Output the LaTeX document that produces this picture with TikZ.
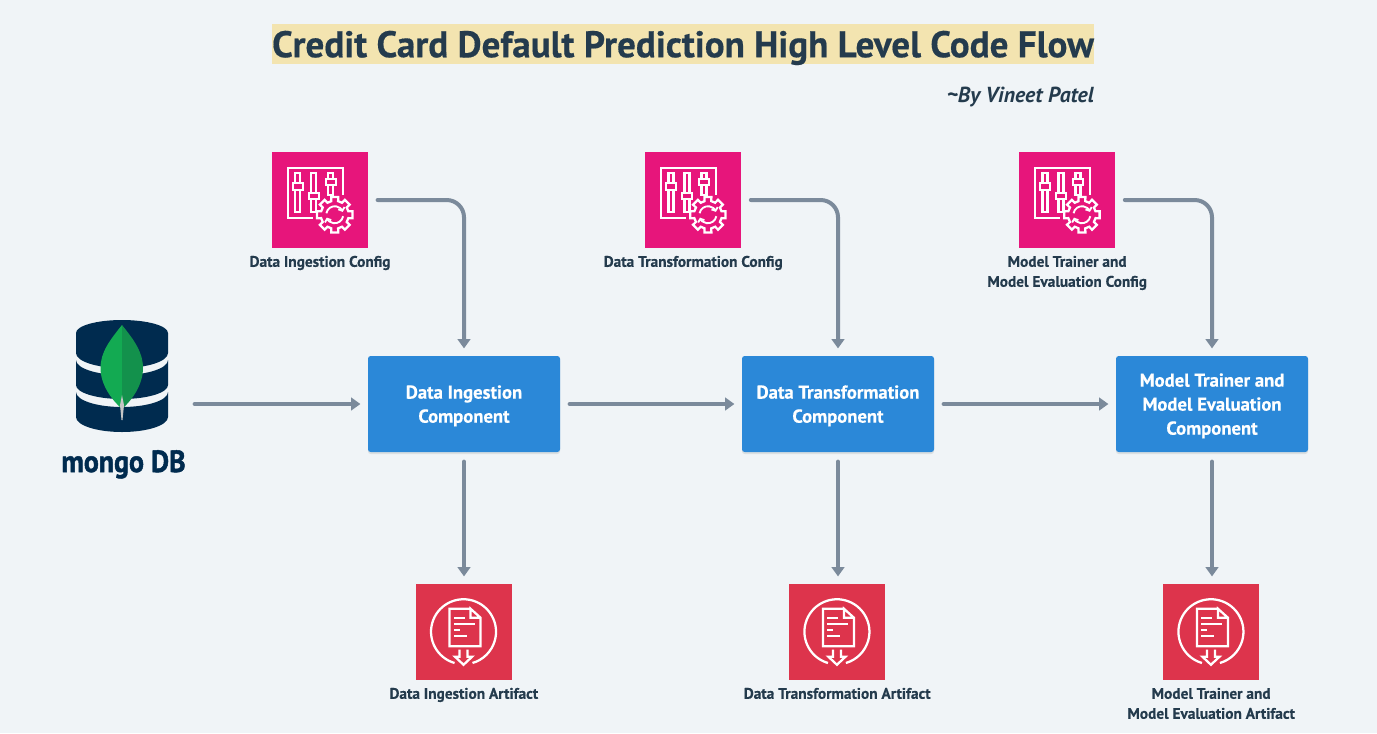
\documentclass[tikz,border=0pt]{standalone}
\usepackage{fontspec}
\setmainfont{PT Sans}[BoldFeatures={FakeBold=0.4}]
\newfontfamily\mongofont{PT Sans}[BoldFeatures={FakeBold=1.6}]
\usetikzlibrary{arrows.meta,positioning,shadows}
\definecolor{pagebg}{HTML}{F0F4F7}
\definecolor{titlebar}{HTML}{F3E4B0}
\definecolor{inkdark}{HTML}{243B4D}
\definecolor{flowgray}{HTML}{7B8A9B}
\definecolor{compblue}{HTML}{2B88D8}
\definecolor{cfgpink}{HTML}{E7157B}
\definecolor{artred}{HTML}{DD344C}
\definecolor{mongonavy}{HTML}{002B4F}
\definecolor{leafleft}{HTML}{13AA52}
\definecolor{leafright}{HTML}{13914C}
\tikzset{
  flow/.style={draw=flowgray,line width=3pt,line cap=round,rounded corners=13pt,
    shorten <=7pt,shorten >=5.5pt,-{Triangle[length=7pt,width=9.5pt]}},
  comp/.style={fill=compblue,text=white,rounded corners=2pt,minimum width=144pt,minimum height=72pt,
    inner sep=0pt,align=center,text depth=0pt,font=\bfseries\fontsize{14}{18}\selectfont,
    drop shadow={shadow xshift=0pt,shadow yshift=-1.5pt,opacity=.18}},
  cfgbox/.style={fill=cfgpink,minimum size=72pt,inner sep=0pt},
  artbox/.style={fill=artred,minimum size=72pt,inner sep=0pt},
  caption/.style={text=inkdark,inner sep=0pt,align=center,font=\bfseries\fontsize{11.5}{15}\selectfont},
  iconline/.style={draw=white,line width=1.7pt,line join=miter},
  configicon/.pic={
    \draw[iconline] (41,66) -- (16,66) -- (16,16) -- (71,16) -- (71,43);
    % sliders
    \draw[iconline] (23.5,21) rectangle (28.5,60);
    \draw[iconline,fill=cfgpink] (21,31) rectangle (31,38);
    \draw[iconline] (39.5,21) rectangle (44.5,60);
    \draw[iconline,fill=cfgpink] (37,41) rectangle (47,47);
    \draw[iconline] (56.5,21) rectangle (61.5,43);
    \draw[iconline,fill=cfgpink] (54,27) rectangle (64,33);
    % gear
    \begin{scope}[shift={(63,63)}]
      \draw[iconline,fill=cfgpink] (-11:18)
        \foreach \a in {0,45,...,315} {
          -- (\a-11:18) -- (\a+11:18) -- (\a+14:14) -- (\a+31:14) } -- cycle;
      \draw[draw=white,line width=1.4pt,-{Straight Barb[length=2pt,width=5pt]}]
        (190:8.5) arc[start angle=190,end angle=340,radius=8.5];
      \draw[draw=white,line width=1.4pt,-{Straight Barb[length=2pt,width=5pt]}]
        (10:8.5) arc[start angle=10,end angle=160,radius=8.5];
    \end{scope}
  },
  artifacticon/.pic={
    \draw[iconline] (48,48) +(106:32.5) arc[start angle=106,end angle=434,radius=32.5];
    \draw[iconline] (55,25) -- (34,25) -- (34,62.5) -- (65,62.5) -- (65,34) -- (55,25) -- (55,34) -- (65,34);
    \draw[iconline] (38.5,34.5) -- (49,34.5);
    \draw[iconline] (38.5,40.5) -- (59,40.5);
    \draw[iconline] (38.5,46.5) -- (44.5,46.5);
    \draw[iconline] (38.5,52.5) -- (51,52.5);
    \draw[iconline] (44,66) -- (44,73) -- (39.5,73) -- (48,81) -- (56.5,73) -- (52,73) -- (52,66);
  }
}
\begin{document}
\begin{tikzpicture}[x=0.75pt,y=-0.75pt]
\useasboundingbox (0,0) rectangle (1377,733);
\fill[pagebg] (0,0) rectangle (1377,733);

\node[fill=titlebar,text=inkdark,minimum width=616.5pt,minimum height=30pt,inner sep=0pt,text depth=0pt,
  font=\bfseries\fontsize{27.8}{30}\selectfont] (title) at (683,44) {Credit Card Default Prediction High Level Code Flow};
\node[text=inkdark,anchor=east,inner sep=0pt,font=\bfseries\itshape\fontsize{16.3}{18}\selectfont] (byline) at (1094,97) {\textasciitilde By Vineet Patel};

% source
\node[minimum width=92.25pt,minimum height=126pt,inner sep=0pt] (mongo) at (123.5,404) {};
\fill[mongonavy] (76,333) arc[start angle=180,end angle=360,x radius=46,y radius=13]
  -- (168,353) arc[start angle=0,end angle=180,x radius=46,y radius=15] -- cycle;
\fill[mongonavy] (76,360) arc[start angle=180,end angle=0,x radius=46,y radius=15]
  -- (168,385) arc[start angle=0,end angle=180,x radius=46,y radius=14] -- cycle;
\fill[mongonavy] (76,392) arc[start angle=180,end angle=0,x radius=46,y radius=15]
  -- (168,417) arc[start angle=0,end angle=180,x radius=46,y radius=15] -- cycle;
\fill[leafleft] (122,325) .. controls (110,340) and (100.5,352) .. (100.5,368) .. controls (100.5,385) and (112,400) .. (122,409) -- cycle;
\fill[leafright] (122,325) .. controls (134,340) and (143,352) .. (143,368) .. controls (143,385) and (132,400) .. (122,409) -- cycle;
\fill[gray!45] (120,405) -- (122,395) -- (124,405) -- (122.5,420) -- (121.5,420) -- cycle;
\node[text=mongonavy,inner sep=0pt,anchor=base,font=\mongofont\bfseries\fontsize{23}{26}\selectfont] (mongolabel) at (123.5,472) {\scalebox{.91}[1]{mongo DB}};

% configs
\node[cfgbox] (cfgingest) at (320,200) {};
\node[cfgbox] (cfgtrans) at (693.2,200) {};
\node[cfgbox] (cfgmodel) at (1067.2,200) {};
\pic at (cfgingest.north west) {configicon};
\pic at (cfgtrans.north west) {configicon};
\pic at (cfgmodel.north west) {configicon};
\node[caption,below=5.5pt of cfgingest] (capcfgingest) {Data Ingestion Config};
\node[caption,below=5.5pt of cfgtrans] (capcfgtrans) {Data Transformation Config};
\node[caption,below=5.5pt of cfgmodel] (capcfgmodel) {Model Trainer and\\Model Evaluation Config};

% components
\node[comp] (compingest) at (464,404) {Data Ingestion\\Component};
\node[comp] (comptrans) at (838,404) {Data Transformation\\Component};
\node[comp] (compmodel) at (1212,404) {Model Trainer and\\Model Evaluation\\Component};

% artifacts
\node[artbox] (artingest) at (463.8,632) {};
\node[artbox] (arttrans) at (837.2,632) {};
\node[artbox] (artmodel) at (1211.2,632) {};
\pic at (artingest.north west) {artifacticon};
\pic at (arttrans.north west) {artifacticon};
\pic at (artmodel.north west) {artifacticon};
\node[caption,below=5.5pt of artingest] (capartingest) {Data Ingestion Artifact};
\node[caption,below=5.5pt of arttrans] (caparttrans) {Data Transformation Artifact};
\node[caption,below=5.5pt of artmodel] (capartmodel) {Model Trainer and\\Model Evaluation Artifact};

% flows
\draw[flow] (mongo.east) -- (compingest.west);
\draw[flow] (compingest.east) -- (comptrans.west);
\draw[flow] (comptrans.east) -- (compmodel.west);
\draw[flow] (cfgingest.east) -| (compingest.north);
\draw[flow] (cfgtrans.east) -| (comptrans.north);
\draw[flow] (cfgmodel.east) -| (compmodel.north);
\draw[flow] (compingest.south) -- (compingest.south |- artingest.north);
\draw[flow] (comptrans.south) -- (comptrans.south |- arttrans.north);
\draw[flow] (compmodel.south) -- (compmodel.south |- artmodel.north);
\end{tikzpicture}
\end{document}
